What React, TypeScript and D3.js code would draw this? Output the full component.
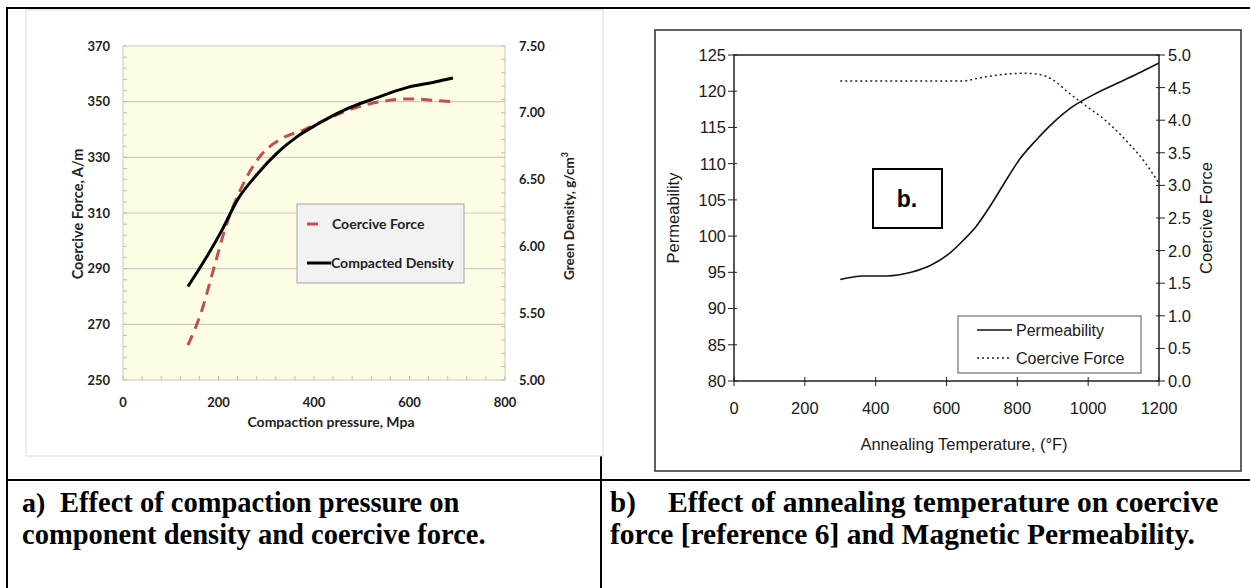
import React, { useEffect, useRef } from 'react';
import * as d3 from 'd3';

// a) compaction pressure (MPa) vs coercive force (A/m) and green density (g/cm3)
const pressureCF = [136, 165, 190, 215, 245, 290, 330, 380, 430, 490, 540, 600, 650, 690];
const coerciveForceA = [262.5, 275, 290, 305, 318, 331, 336.5, 340, 344, 348, 350, 351, 350.5, 350];
const pressureDensity = [136, 175, 207, 240, 281, 323, 364, 405, 463, 529, 596, 653, 691];
const greenDensity = [5.7, 5.92, 6.12, 6.35, 6.54, 6.7, 6.82, 6.91, 7.02, 7.11, 7.19, 7.23, 7.26];
const pressureTicks = [0, 200, 400, 600, 800];
const coerciveTicksA = [250, 270, 290, 310, 330, 350, 370];
const densityTicks = [5.0, 5.5, 6.0, 6.5, 7.0, 7.5];

// b) annealing temperature (F) vs permeability and coercive force
const tempPerm = [300, 363, 432, 500, 557, 603, 649, 683, 728, 763, 808, 854, 900, 957, 1014, 1082, 1151, 1200];
const permeability = [94.0, 94.5, 94.5, 95.0, 96.0, 97.4, 99.5, 101.3, 104.5, 107.3, 110.7, 113.3, 115.6, 117.9, 119.5, 121.1, 122.7, 123.9];
const tempCF = [300, 637, 706, 774, 820, 854, 900, 945, 991, 1048, 1105, 1162, 1200];
const coerciveForceB = [4.6, 4.6, 4.66, 4.71, 4.72, 4.71, 4.62, 4.42, 4.23, 4.0, 3.7, 3.34, 3.03];
const tempTicks = [0, 200, 400, 600, 800, 1000, 1200];
const permTicks = [80, 85, 90, 95, 100, 105, 110, 115, 120, 125];
const coerciveTicksB = [0, 0.5, 1, 1.5, 2, 2.5, 3, 3.5, 4, 4.5, 5];

const captionA = ['a)', 'Effect of compaction pressure on', 'component density and coercive force.'];
const captionB = ['b)', 'Effect of annealing temperature on coercive', 'force [reference 6] and Magnetic Permeability.'];

function App() {
  const ref = useRef<SVGSVGElement>(null);

  useEffect(() => {
    const svg = d3.select(ref.current);
    svg.selectAll('*').remove();

    //table frame
    const frame = svg.append('g').attr('stroke', '#000').attr('stroke-width', 2);
    frame.append('line').attr('x1', 6).attr('x2', 1250).attr('y1', 8).attr('y2', 8);
    frame.append('line').attr('x1', 7).attr('x2', 7).attr('y1', 8).attr('y2', 588);
    frame.append('line').attr('x1', 6).attr('x2', 1250).attr('y1', 480).attr('y2', 480);
    frame.append('line').attr('x1', 601).attr('x2', 601).attr('y1', 456).attr('y2', 588);

    // ---------- chart a ----------
    const a = svg.append('g').attr('font-family', 'Lato, "Open Sans", sans-serif').attr('font-weight', 700);
    a.append('rect').attr('x', 26).attr('y', 10).attr('width', 577).attr('height', 446)
      .attr('fill', '#fff').attr('stroke', '#dadada');

    const xA = d3.scaleLinear().domain([0, 800]).range([123, 505]);
    const yA = d3.scaleLinear().domain([250, 370]).range([380, 46]);
    const yD = d3.scaleLinear().domain([5, 7.5]).range([380, 46]);

    a.append('rect').attr('x', 123).attr('y', 46).attr('width', 382).attr('height', 334)
      .attr('fill', '#fdfde6').attr('stroke', '#c9c9c0');

    a.selectAll('.grid').data(coerciveTicksA.slice(1, -1)).join('line')
      .attr('x1', 123).attr('x2', 505)
      .attr('y1', d => yA(d)).attr('y2', d => yA(d))
      .attr('stroke', '#cdcdc2').attr('stroke-width', 1.2);

    // minor ticks, inside the plot
    const minorL = d3.range(250, 370.1, 4);
    a.append('g').selectAll('line').data(minorL).join('line')
      .attr('x1', 123).attr('x2', 127).attr('y1', d => yA(d)).attr('y2', d => yA(d))
      .attr('stroke', '#bdbdb5');
    const minorR = d3.range(5, 7.51, 0.1);
    a.append('g').selectAll('line').data(minorR).join('line')
      .attr('x1', 501).attr('x2', 505).attr('y1', d => yD(d)).attr('y2', d => yD(d))
      .attr('stroke', '#bdbdb5');
    const minorB = d3.range(0, 800.1, 40);
    a.append('g').selectAll('line').data(minorB).join('line')
      .attr('x1', d => xA(d)).attr('x2', d => xA(d)).attr('y1', 376).attr('y2', 380)
      .attr('stroke', '#bdbdb5');

    a.append('g').selectAll('text').data(coerciveTicksA).join('text')
      .attr('x', 110).attr('y', d => yA(d)).attr('dy', '0.35em').attr('text-anchor', 'end')
      .attr('font-size', 13).attr('fill', '#222').text(d => d);
    a.append('g').selectAll('text').data(densityTicks).join('text')
      .attr('x', 519).attr('y', d => yD(d)).attr('dy', '0.35em')
      .attr('font-size', 13).attr('fill', '#222').text(d => d.toFixed(2));
    a.append('g').selectAll('text').data(pressureTicks).join('text')
      .attr('x', d => xA(d)).attr('y', 407).attr('text-anchor', 'middle')
      .attr('font-size', 13).attr('fill', '#222').text(d => d);

    a.append('text').attr('transform', 'translate(83,214) rotate(-90)').attr('text-anchor', 'middle')
      .attr('font-size', 14.5).attr('fill', '#222').text('Coercive Force, A/m');
    const gd = a.append('text').attr('transform', 'translate(574,216) rotate(-90)').attr('text-anchor', 'middle')
      .attr('font-size', 13.5).attr('fill', '#222');
    gd.append('tspan').text('Green Density, g/cm');
    gd.append('tspan').attr('font-size', 9).attr('dy', -6).text('3');
    a.append('text').attr('x', 331).attr('y', 427).attr('text-anchor', 'middle')
      .attr('font-size', 14).attr('fill', '#222').text('Compaction pressure, Mpa');

    const lineCF = d3.line<number>().x((d, i) => xA(pressureCF[i])).y(d => yA(d)).curve(d3.curveMonotoneX);
    const lineDen = d3.line<number>().x((d, i) => xA(pressureDensity[i])).y(d => yD(d)).curve(d3.curveMonotoneX);

    a.append('path').attr('d', lineCF(coerciveForceA)).attr('fill', 'none')
      .attr('stroke', '#c0504d').attr('stroke-width', 3).attr('stroke-dasharray', '11,7');
    a.append('path').attr('d', lineDen(greenDensity)).attr('fill', 'none')
      .attr('stroke', '#000').attr('stroke-width', 3);

    //legend a
    const la = a.append('g');
    la.append('rect').attr('x', 297).attr('y', 204).attr('width', 167).attr('height', 79)
      .attr('fill', '#f2f2f2').attr('stroke', '#a3a3a3');
    la.append('line').attr('x1', 307).attr('x2', 318).attr('y1', 224).attr('y2', 224)
      .attr('stroke', '#c0504d').attr('stroke-width', 3);
    la.append('text').attr('x', 332).attr('y', 229).attr('font-size', 14).attr('fill', '#222').text('Coercive Force');
    la.append('line').attr('x1', 307).attr('x2', 331).attr('y1', 263).attr('y2', 263)
      .attr('stroke', '#000').attr('stroke-width', 3);
    la.append('text').attr('x', 331).attr('y', 268).attr('font-size', 14).attr('fill', '#222').text('Compacted Density');

    // ---------- chart b ----------
    const b = svg.append('g').attr('font-family', '"Liberation Sans", Arial, sans-serif').attr('fill', '#1a1a1a');
    b.append('rect').attr('x', 655).attr('y', 30).attr('width', 586).attr('height', 441)
      .attr('fill', 'none').attr('stroke', '#3a3a3a').attr('stroke-width', 1.6);

    const xB = d3.scaleLinear().domain([0, 1200]).range([734, 1159]);
    const yP = d3.scaleLinear().domain([80, 125]).range([381, 55]);
    const yC = d3.scaleLinear().domain([0, 5]).range([381, 55]);

    b.append('rect').attr('x', 734).attr('y', 55).attr('width', 425).attr('height', 326)
      .attr('fill', 'none').attr('stroke', '#111').attr('stroke-width', 1.4);

    b.append('g').selectAll('line').data(permTicks).join('line')
      .attr('x1', 728).attr('x2', 737).attr('y1', d => yP(d)).attr('y2', d => yP(d))
      .attr('stroke', '#222');
    b.append('g').selectAll('line').data(coerciveTicksB).join('line')
      .attr('x1', 1156).attr('x2', 1165).attr('y1', d => yC(d)).attr('y2', d => yC(d))
      .attr('stroke', '#222');
    b.append('g').selectAll('line').data(tempTicks).join('line')
      .attr('x1', d => xB(d)).attr('x2', d => xB(d)).attr('y1', 377).attr('y2', 386)
      .attr('stroke', '#222');

    b.append('g').selectAll('text').data(permTicks).join('text')
      .attr('x', 726).attr('y', d => yP(d)).attr('dy', '0.36em').attr('text-anchor', 'end')
      .attr('font-size', 16.5).text(d => d);
    b.append('g').selectAll('text').data(coerciveTicksB).join('text')
      .attr('x', 1168).attr('y', d => yC(d)).attr('dy', '0.36em')
      .attr('font-size', 16.5).text(d => d.toFixed(1));
    b.append('g').selectAll('text').data(tempTicks).join('text')
      .attr('x', d => xB(d)).attr('y', 414).attr('text-anchor', 'middle')
      .attr('font-size', 16.5).text(d => d);

    b.append('text').attr('transform', 'translate(679,218) rotate(-90)').attr('text-anchor', 'middle')
      .attr('font-size', 16.5).text('Permeability');
    b.append('text').attr('transform', 'translate(1212,218) rotate(-90)').attr('text-anchor', 'middle')
      .attr('font-size', 16.5).text('Coercive Force');
    b.append('text').attr('x', 964).attr('y', 450).attr('text-anchor', 'middle')
      .attr('font-size', 16.5).text('Annealing Temperature, (°F)');

    const linePerm = d3.line<number>().x((d, i) => xB(tempPerm[i])).y(d => yP(d)).curve(d3.curveMonotoneX);
    const lineCFB = d3.line<number>().x((d, i) => xB(tempCF[i])).y(d => yC(d)).curve(d3.curveMonotoneX);
    b.append('path').attr('d', linePerm(permeability)).attr('fill', 'none')
      .attr('stroke', '#111').attr('stroke-width', 1.6);
    b.append('path').attr('d', lineCFB(coerciveForceB)).attr('fill', 'none')
      .attr('stroke', '#222').attr('stroke-width', 1.5).attr('stroke-dasharray', '2,3');

    // b. label box
    b.append('rect').attr('x', 873).attr('y', 169).attr('width', 69).attr('height', 59)
      .attr('fill', '#fff').attr('stroke', '#000').attr('stroke-width', 2);
    b.append('text').attr('x', 907).attr('y', 207).attr('text-anchor', 'middle')
      .attr('font-size', 23).attr('font-weight', 700).attr('fill', '#000').text('b.');

    //legend b
    const lb = b.append('g');
    lb.append('rect').attr('x', 958).attr('y', 316).attr('width', 183).attr('height', 57)
      .attr('fill', '#fff').attr('stroke', '#555');
    lb.append('line').attr('x1', 977).attr('x2', 1012).attr('y1', 330).attr('y2', 330)
      .attr('stroke', '#111').attr('stroke-width', 1.5);
    lb.append('text').attr('x', 1016).attr('y', 336).attr('font-size', 16).text('Permeability');
    lb.append('line').attr('x1', 977).attr('x2', 1012).attr('y1', 358).attr('y2', 358)
      .attr('stroke', '#222').attr('stroke-width', 1.5).attr('stroke-dasharray', '2,3');
    lb.append('text').attr('x', 1016).attr('y', 364).attr('font-size', 16).text('Coercive Force');

    // captions
    const cap = svg.append('g').attr('font-family', '"Liberation Serif", "Times New Roman", serif')
      .attr('font-weight', 700).attr('fill', '#000');
    cap.append('text').attr('x', 22).attr('y', 512).attr('font-size', 28).text(captionA[0]);
    cap.append('text').attr('x', 60).attr('y', 512).attr('font-size', 28.5).text(captionA[1]);
    cap.append('text').attr('x', 22).attr('y', 544).attr('font-size', 28.5).text(captionA[2]);
    cap.append('text').attr('x', 610).attr('y', 512).attr('font-size', 29).text(captionB[0]);
    cap.append('text').attr('x', 668).attr('y', 512).attr('font-size', 29.5).text(captionB[1]);
    cap.append('text').attr('x', 610).attr('y', 544).attr('font-size', 29.5).text(captionB[2]);
  }, []);

  return (
    <svg ref={ref} width={1250} height={588}
      style={{ position: 'absolute', left: 0, top: 0, background: '#fff' }} />
  );
}

export default App;
